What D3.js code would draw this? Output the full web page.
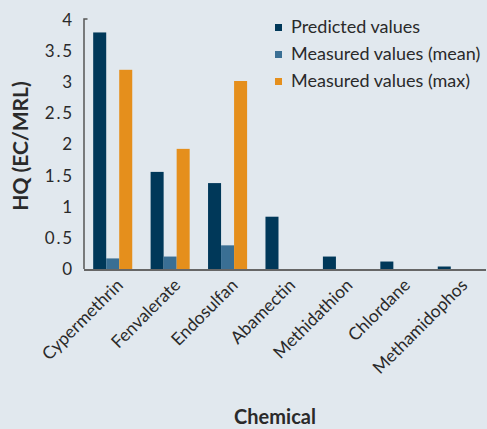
<!DOCTYPE html>
<html><head><meta charset="utf-8">
<script src="https://cdn.jsdelivr.net/npm/d3@7"></script>
<style>
html,body{margin:0;padding:0;background:#e1e8ee;}
svg{display:block;}
text{font-family:Lato, "Open Sans", sans-serif;fill:#2a2a2a;}
</style></head><body>
<svg id="c" width="487" height="429"></svg>
<script>
const categories = ["Cypermethrin","Fenvalerate","Endosulfan","Abamectin","Methidathion","Chlordane","Methamidophos"];
const predicted = [3.8, 1.56, 1.38, 0.84, 0.2, 0.12, 0.04];
const measuredMean = [0.17, 0.2, 0.38, 0, 0, 0, 0];
const measuredMax = [3.2, 1.93, 3.02, 0, 0, 0, 0];
const seriesNames = ["Predicted values","Measured values (mean)","Measured values (max)"];
const colors = ["#003859","#3a6f94","#e58f1c"];
const yTicks = [0,0.5,1,1.5,2,2.5,3,3.5,4];

(function(){
const svg = d3.select("#c");
const mLeft = 84, mRight = 486, mTop = 20, mBottom = 269;
const x = d3.scaleBand().domain(categories).range([mLeft, mRight]).paddingInner(0.32).paddingOuter(0.16);
const series = [predicted, measuredMean, measuredMax];
const xs = d3.scaleBand().domain(d3.range(3)).range([0, x.bandwidth()]);
const y = d3.scaleLinear().domain([0,4]).range([mBottom, mTop]);

// bars
series.forEach((vals, si) => {
  svg.append("g").selectAll("rect").data(vals).join("rect")
    .attr("x", (d,i) => x(categories[i]) + xs(si))
    .attr("width", xs.bandwidth())
    .attr("y", d => y(d))
    .attr("height", d => mBottom + 1 - y(d))
    .attr("fill", colors[si]);
});

// y axis
const ya = svg.append("g").attr("transform", `translate(${mLeft},0)`)
  .call(d3.axisLeft(y).tickValues(yTicks).tickSize(0).tickPadding(10).tickFormat(d3.format("")));
ya.select(".domain").attr("stroke","#555").attr("stroke-width",1.5).attr("d", `M0,${mBottom}V${mTop-1}H3.5`).attr("fill","none");
ya.selectAll("text").attr("font-size", 17).attr("letter-spacing","1.8px").attr("font-family","Lato, sans-serif").attr("fill","#2a2a2a");

// x axis
const xa = svg.append("g").attr("transform", `translate(0,${mBottom+1})`)
  .call(d3.axisBottom(x).tickSize(0).tickPadding(0));
xa.select(".domain").attr("stroke","#666").attr("stroke-width",2.2).attr("d", `M${mLeft},0H${mRight}`);
xa.selectAll("text")
  .attr("font-size", 17.5).attr("font-family","Lato, sans-serif").attr("fill","#2a2a2a")
  .attr("text-anchor","end")
  .attr("transform","translate(7,12) rotate(-45)")
  .attr("dy","0.35em").attr("y",0);

// axis titles
svg.append("text").attr("transform","translate(28,146) rotate(-90)")
  .attr("text-anchor","middle").attr("font-weight","bold").attr("font-size",21).text("HQ (EC/MRL)");
svg.append("text").attr("x",275).attr("y",424)
  .attr("text-anchor","middle").attr("font-weight","bold").attr("font-size",20).text("Chemical");

// legend
const lg = svg.append("g");
seriesNames.forEach((n,i) => {
  lg.append("rect").attr("x",275).attr("y",24 + i*27).attr("width",7).attr("height",7).attr("fill",colors[i]);
  lg.append("text").attr("x",291).attr("y",33 + i*27).attr("font-size",18).text(n);
});
})();
</script>
</body></html>
